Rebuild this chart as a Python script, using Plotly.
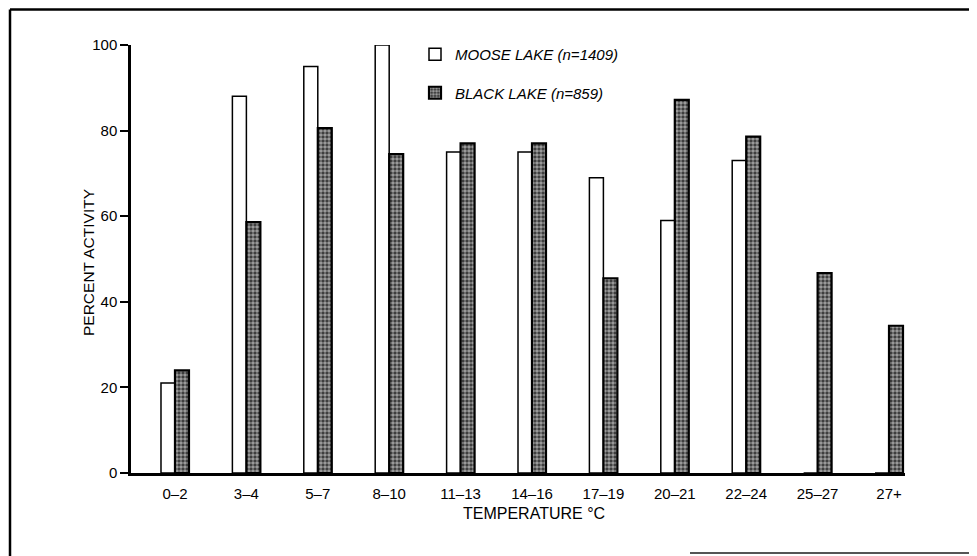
import plotly.graph_objects as go

categories = ["0–2", "3–4", "5–7", "8–10", "11–13", "14–16", "17–19", "20–21", "22–24", "25–27", "27+"]
moose_lake = [21, 88, 95, 100, 75, 75, 69, 59, 73, 0, 0]
black_lake = [24, 58.6, 80.6, 74.5, 77, 77, 45.5, 87.2, 78.6, 46.7, 34.4]
y_ticks = [0, 20, 40, 60, 80, 100]

OFF = 8  # page body margin
W, H = 977 - OFF, 556 - OFF
# target pixel positions in the 977x556 window
LEFT, RIGHT, TOP, BOTTOM = 131, 905, 45, 473
ML, MR, MT, MB = LEFT - OFF, W - (RIGHT - OFF), TOP - OFF, H - (BOTTOM - OFF)
PW, PH = W - ML - MR, H - MT - MB

def px(x):
    return (x - LEFT) / PW

def py(y):
    return (BOTTOM - y) / PH

FONT = "Liberation Sans"
xpos = list(range(len(categories)))

fig = go.Figure()
fig.add_trace(go.Bar(
    x=xpos, y=moose_lake, name="<i>MOOSE LAKE (n=1409)</i>", legendgroup="a",
    marker=dict(color="white", line=dict(color="black", width=1.5)),
))
fig.add_trace(go.Bar(
    x=xpos, y=black_lake, name="<i>BLACK LAKE (n=859)</i>", legendgroup="b",
    marker=dict(color="#333333", line=dict(color="black", width=2.2),
                pattern=dict(shape=".", fgcolor="white", bgcolor="#333333", size=4, solidity=0.62)),
))

frame = dict(color="black", width=2.5)
fig.update_layout(
    width=W, height=H,
    margin=dict(l=ML, r=MR, t=MT, b=MB),
    paper_bgcolor="white", plot_bgcolor="white",
    barmode="group", bargap=0.608, bargroupgap=0,
    font=dict(family=FONT, color="black", size=14),
    showlegend=True,
    legend=dict(x=px(415), y=py(38), xanchor="left", yanchor="top",
                bgcolor="rgba(0,0,0,0)", font=dict(size=15, family=FONT),
                tracegroupgap=16, traceorder="grouped"),
    xaxis=dict(range=[-0.616, 10.224], tickvals=xpos, ticktext=categories,
               showline=True, linecolor="black", linewidth=2.5, ticks="",
               showgrid=False, zeroline=False, tickfont=dict(size=15), ticklabelstandoff=5),
    yaxis=dict(range=[0, 100], tickvals=y_ticks, showline=True, linecolor="black", linewidth=2.5,
               ticks="outside", ticklen=8, tickwidth=1.5, tickcolor="black",
               showgrid=False, zeroline=False, tickfont=dict(size=15)),
    shapes=[
        dict(type="line", xref="paper", yref="paper", x0=px(10), x1=px(10), y0=py(556), y1=py(9.5), line=frame),
        dict(type="line", xref="paper", yref="paper", x0=px(10), x1=px(971), y0=py(9.5), y1=py(9.5), line=frame),
        dict(type="line", xref="paper", yref="paper", x0=px(971), x1=px(971), y0=py(553), y1=py(9.5), line=frame),
        dict(type="line", xref="paper", yref="paper", x0=px(690), x1=px(971), y0=py(553), y1=py(553),
             line=dict(color="#555555", width=2)),
    ],
    annotations=[
        dict(text="TEMPERATURE °C", xref="paper", yref="paper", x=px(534), y=py(514),
             showarrow=False, font=dict(size=16), xanchor="center", yanchor="middle"),
        dict(text="PERCENT ACTIVITY", xref="paper", yref="paper", x=px(88), y=py(263),
             showarrow=False, font=dict(size=15.5), textangle=-90, xanchor="center", yanchor="middle"),
    ],
)

fig.write_html("out.html")
